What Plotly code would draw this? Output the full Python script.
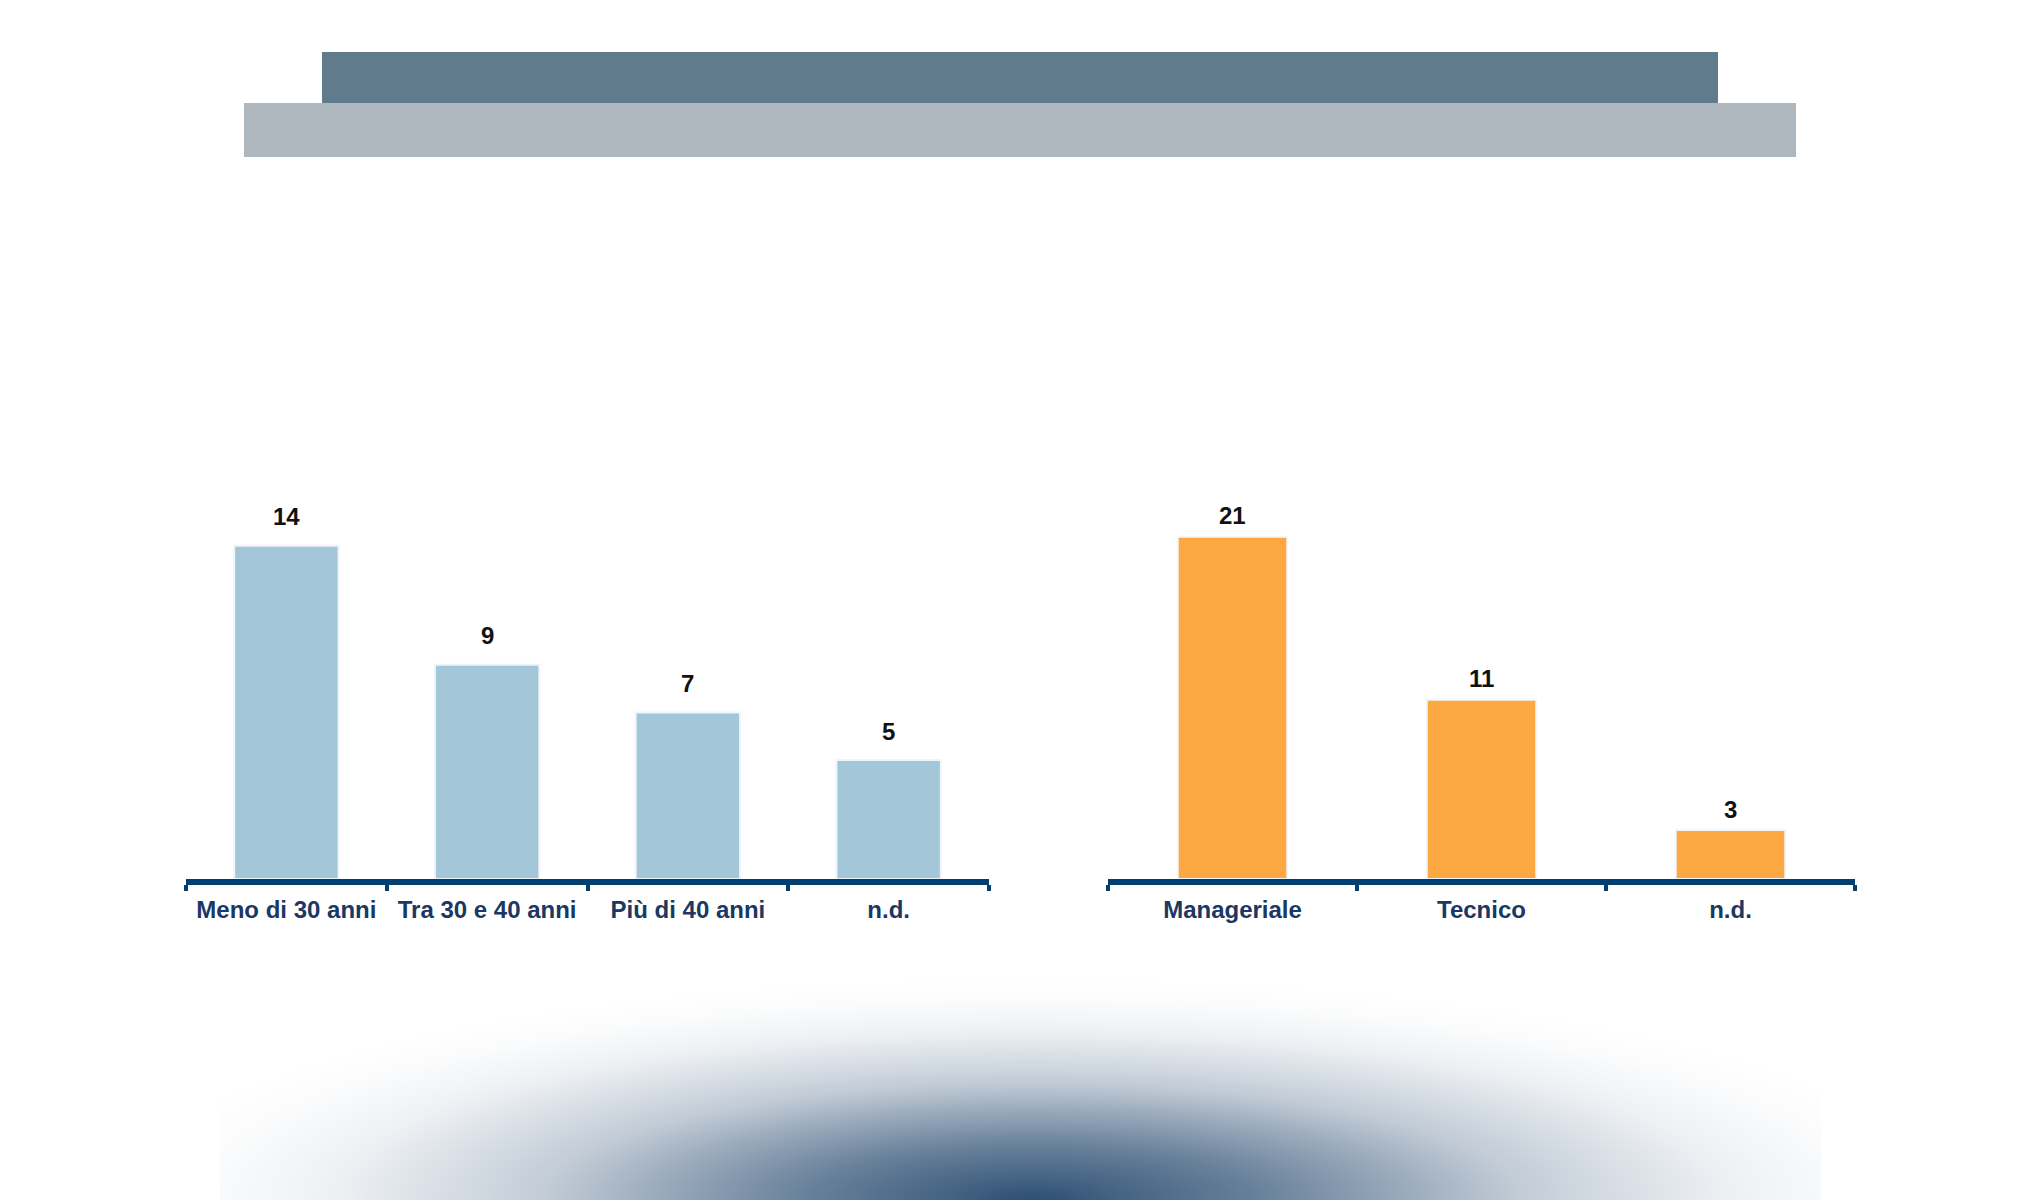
import base64
import plotly.graph_objects as go

# dati: partecipanti per fascia d'età e per profilo
age_labels = ["Meno di 30 anni", "Tra 30 e 40 anni", "Più di 40 anni", "n.d."]
age_values = [14, 9, 7, 5]
role_labels = ["Manageriale", "Tecnico", "n.d."]
role_values = [21, 11, 3]

W, H = 2040, 1200
OFF = 8  # margine del body della pagina
AXIS_COL = "#003F72"
TICK_COL = "#1B3763"
FONT = "Liberation Sans, Arial, sans-serif"


def fx(x):
    return (x - OFF) / W


def fy(y):
    return 1 - (y - OFF) / H


fig = go.Figure()

fig.add_trace(go.Bar(x=age_labels, y=age_values, width=0.52,
                     marker=dict(color="#A3C6D9", line=dict(color="#EEF5FA", width=2)),
                     xaxis="x", yaxis="y", hoverinfo="x+y"))
fig.add_trace(go.Bar(x=role_labels, y=role_values, width=0.44,
                     marker=dict(color="#FDA843", line=dict(color="#F2F7FA", width=2)),
                     xaxis="x2", yaxis="y2", hoverinfo="x+y"))

# etichette dei valori sopra le barre
annots = []
for lab, v in zip(age_labels, age_values):
    annots.append(dict(x=lab, y=v, xref="x", yref="y", text=str(v), showarrow=False, yshift=29,
                       font=dict(family=FONT, size=24, color="#111111", weight="bold")))
for lab, v in zip(role_labels, role_values):
    annots.append(dict(x=lab, y=v, xref="x2", yref="y2", text=str(v), showarrow=False, yshift=21,
                       font=dict(family=FONT, size=24, color="#111111", weight="bold")))

xcommon = dict(type="category", showline=True, linewidth=6, linecolor=AXIS_COL, ticks="outside",
               tickson="boundaries", ticklen=6, tickwidth=4, tickcolor=AXIS_COL, showgrid=False,
               zeroline=False, tickfont=dict(family=FONT, size=24, color=TICK_COL, weight="bold"),
               ticklabelstandoff=4, fixedrange=True)
ycommon = dict(visible=False, showgrid=False, zeroline=False, fixedrange=True)

base = fy(879)
top = fy(399)

# sfumatura radiale in basso (immagine svg inline)
gw, gh = 1601, 308
stops = [(0, 0.95), (0.03, 0.93), (0.09, 0.86), (0.24, 0.7), (0.38, 0.5),
         (0.53, 0.28), (0.76, 0.08), (0.9, 0.02), (1, 0)]
stop_xml = "".join('<stop offset="%.3f" stop-color="#25486E" stop-opacity="%.3f"/>' % s for s in stops)
svg = ('<svg xmlns="http://www.w3.org/2000/svg" width="%d" height="%d" viewBox="0 0 %d %d" '
       'preserveAspectRatio="none"><defs><radialGradient id="g" gradientUnits="userSpaceOnUse" '
       'cx="0" cy="0" r="1" gradientTransform="translate(812,300) scale(920,222)">%s</radialGradient>'
       '</defs><rect width="%d" height="%d" fill="url(#g)"/></svg>') % (gw, gh, gw, gh, stop_xml, gw, gh)
grad_src = "data:image/svg+xml;base64," + base64.b64encode(svg.encode()).decode()

# intestazione (fasce grigie)
shapes = [
    dict(type="rect", xref="paper", yref="paper", layer="below", x0=fx(244), x1=fx(1796),
         y0=fy(157), y1=fy(103), fillcolor="#B0B8BF", line=dict(width=0)),
    dict(type="rect", xref="paper", yref="paper", layer="below", x0=fx(322), x1=fx(1718),
         y0=fy(103), y1=fy(52), fillcolor="#5F7B8C", line=dict(width=0)),
]

fig.update_layout(
    width=W, height=H,
    margin=dict(l=0, r=0, t=0, b=0),
    paper_bgcolor="white", plot_bgcolor="rgba(0,0,0,0)",
    showlegend=False,
    xaxis=dict(domain=[fx(186), fx(989)], anchor="y", **xcommon),
    yaxis=dict(domain=[base, top], range=[0, 480 / 23.8], anchor="x", **ycommon),
    xaxis2=dict(domain=[fx(1108), fx(1855)], anchor="y2", **xcommon),
    yaxis2=dict(domain=[base, top], range=[0, 480 / 16.3], anchor="x2", **ycommon),
    annotations=annots,
    shapes=shapes,
    images=[dict(source=grad_src, xref="paper", yref="paper", x=fx(220), y=fy(900),
                 sizex=gw / W, sizey=gh / H, xanchor="left", yanchor="top",
                 sizing="stretch", layer="below")],
)

fig.write_html("out.html")
